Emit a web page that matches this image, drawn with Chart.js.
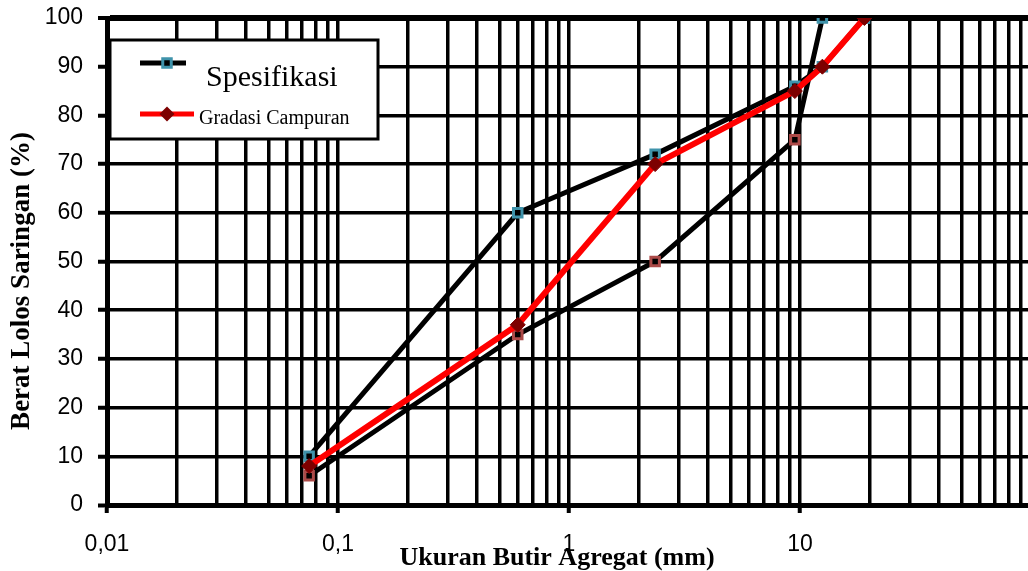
<!DOCTYPE html>
<html>
<head>
<meta charset="utf-8">
<script src="https://cdn.jsdelivr.net/npm/chart.js@4.4.1/dist/chart.umd.min.js"></script>
<style>
html, body { margin: 0; padding: 0; background: #fff; overflow: hidden; }
#wrap { width: 1040px; height: 571px; position: relative; }
</style>
</head>
<body>
<div id="wrap"><canvas id="myChart"></canvas></div>
<script>
// ukuran saringan (mm)
const sieveSizes = [0.075, 0.6, 2.36, 9.5, 12.5, 19];
// batas spesifikasi (garisnya bersilang di 9,5 - 12,5)
const specUpper = [10, 60, 72, 86, 90, 100];
const specLower = [6, 35, 50, 75, 100, 100];
// gradasi campuran
const gradasiCampuran = [8, 37, 70, 85, 90, 100];

// sumbu
const xMajorTicks = [0.01, 0.1, 1, 10, 100];
const xMajorLabels = ['0,01', '0,1', '1', '10', ''];
const xMinorFactors = [2, 3, 4, 5, 6, 7, 8, 9];
const yTicks = [0, 10, 20, 30, 40, 50, 60, 70, 80, 90, 100];

const xTitle = 'Ukuran Butir Agregat (mm)';
const yTitle = 'Berat Lolos Saringan (%)';

const TEAL = '#3f93ab';
const BROWN = '#ac4a48';
const DARKRED = '#7d0000';

const toPoints = ys => sieveSizes.map((x, i) => ({ x: x, y: ys[i] }));

// titik 12,5 & 19 pada garis bawah tampil dengan warna spesifikasi atas
const lowerMarkerColors = [BROWN, BROWN, BROWN, BROWN, TEAL, TEAL];

const xTickValues = [];
xMajorTicks.forEach((d, i) => {
    xTickValues.push(d);
    if (i < xMajorTicks.length - 1) {
        xMinorFactors.forEach(f => xTickValues.push(d * f));
    }
});

// buang padding otomatis supaya area plot pas
function noPadding(s) {
    s.paddingTop = 0;
    s.paddingBottom = 0;
    s.paddingLeft = 0;
    s.paddingRight = 0;
}

// legenda & judul sumbu
const customDraw = {
    id: 'customDraw',
    afterDraw(chart) {
        const ctx = chart.ctx;
        const ds = chart.data.datasets;
        ctx.save();

        // kotak legenda
        ctx.fillStyle = '#fff';
        ctx.fillRect(110, 40, 268, 99);
        ctx.lineWidth = 3;
        ctx.strokeStyle = '#000';
        ctx.strokeRect(110, 40, 268, 99);

        // Spesifikasi
        ctx.lineWidth = 5;
        ctx.strokeStyle = '#000';
        ctx.beginPath(); ctx.moveTo(140, 63); ctx.lineTo(186, 63); ctx.stroke();
        ctx.fillStyle = '#000';
        ctx.strokeStyle = TEAL;
        ctx.lineWidth = 3;
        ctx.beginPath(); ctx.rect(167 - 4.25, 63 - 4.25, 8.5, 8.5); ctx.fill(); ctx.stroke();

        ctx.fillStyle = '#000';
        ctx.textAlign = 'left';
        ctx.textBaseline = 'alphabetic';
        ctx.font = '30px "Liberation Serif", "Times New Roman", serif';
        ctx.fillText(ds[1].label, 206, 86);

        // Gradasi Campuran
        ctx.lineWidth = 5;
        ctx.strokeStyle = '#ff0000';
        ctx.beginPath(); ctx.moveTo(140, 114); ctx.lineTo(194, 114); ctx.stroke();
        ctx.fillStyle = DARKRED;
        ctx.beginPath();
        ctx.moveTo(167, 106.5); ctx.lineTo(174.5, 114); ctx.lineTo(167, 121.5); ctx.lineTo(159.5, 114);
        ctx.closePath(); ctx.fill();

        ctx.fillStyle = '#000';
        ctx.font = '20px "Liberation Serif", "Times New Roman", serif';
        ctx.fillText(ds[0].label, 199, 124);

        // judul sumbu
        ctx.font = 'bold 26px "Liberation Serif", "Times New Roman", serif';
        ctx.textAlign = 'center';
        ctx.fillText(xTitle, 557, 565);

        ctx.font = 'bold 27px "Liberation Serif", "Times New Roman", serif';
        ctx.translate(22, 281);
        ctx.rotate(-Math.PI / 2);
        ctx.textBaseline = 'middle';
        ctx.fillText(yTitle, 0, 0);

        ctx.restore();
    }
};

const ctx = document.getElementById('myChart').getContext('2d');

const myChart = new Chart(ctx, {
    type: 'line',
    data: {
        datasets: [
            {
                label: 'Gradasi Campuran',
                data: toPoints(gradasiCampuran),
                borderColor: '#ff0000',
                borderWidth: 6,
                pointStyle: 'rectRot',
                pointRadius: 7.5,
                pointBackgroundColor: DARKRED,
                pointBorderColor: DARKRED,
                pointBorderWidth: 1,
                tension: 0
            },
            {
                label: 'Spesifikasi',
                data: toPoints(specUpper),
                borderColor: '#000',
                borderWidth: 5,
                pointStyle: 'rect',
                pointRadius: 6,
                pointBackgroundColor: '#000',
                pointBorderColor: TEAL,
                pointBorderWidth: 3,
                tension: 0
            },
            {
                label: 'Spesifikasi (bawah)',
                data: toPoints(specLower),
                borderColor: '#000',
                borderWidth: 5,
                pointStyle: 'rect',
                pointRadius: 6,
                pointBackgroundColor: '#000',
                pointBorderColor: lowerMarkerColors,
                pointBorderWidth: 3,
                tension: 0
            }
        ]
    },
    options: {
        responsive: true,
        maintainAspectRatio: false,
        animation: false,
        layout: { padding: { top: 18, right: 7, left: 0, bottom: 0 } },
        plugins: {
            legend: { display: false },
            tooltip: { enabled: false }
        },
        scales: {
            x: {
                type: 'logarithmic',
                min: 0.01,
                max: 100,
                afterBuildTicks: s => {
                    s.ticks = xTickValues.map(v => ({ value: v }));
                },
                afterFit: s => { s.height = 66; noPadding(s); },
                ticks: {
                    autoSkip: false,
                    maxRotation: 0,
                    padding: 18,
                    color: '#000',
                    font: { family: '"Liberation Sans", Arial, sans-serif', size: 23 },
                    callback: v => {
                        const i = xMajorTicks.indexOf(v);
                        return i >= 0 ? xMajorLabels[i] : '';
                    }
                },
                grid: {
                    color: '#000',
                    lineWidth: 3.5,
                    tickLength: 8,
                    tickWidth: 4,
                    tickColor: c => (c.tick && xMajorTicks.indexOf(c.tick.value) >= 0) ? '#000' : 'rgba(0,0,0,0)'
                },
                border: { display: true, color: '#000', width: 5 }
            },
            y: {
                min: 0,
                max: 100,
                afterBuildTicks: s => {
                    s.ticks = yTicks.map(v => ({ value: v }));
                },
                afterFit: s => { s.width = 107; noPadding(s); },
                ticks: {
                    padding: 15,
                    color: '#000',
                    font: { family: '"Liberation Sans", Arial, sans-serif', size: 23 }
                },
                grid: {
                    color: '#000',
                    lineWidth: c => (c.tick && c.tick.value === 100) ? 6 : (c.tick && c.tick.value === 0 ? 5 : 3.5),
                    tickLength: 9,
                    tickWidth: 4,
                    tickColor: '#000'
                },
                border: { display: true, color: '#000', width: 5 }
            }
        }
    },
    plugins: [customDraw]
});
</script>
</body>
</html>
